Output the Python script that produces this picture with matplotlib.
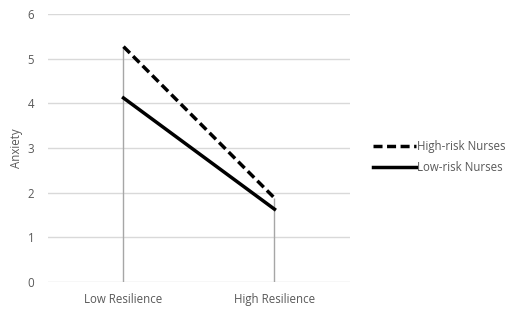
import matplotlib
matplotlib.use('Agg')
import matplotlib.pyplot as plt

categories = ['Low Resilience', 'High Resilience']
high_risk = [5.27, 1.88]
low_risk = [4.12, 1.63]
y_ticks = [0, 1, 2, 3, 4, 5, 6]

plt.rcParams['font.family'] = ['Open Sans', 'DejaVu Sans']
txt = '#595959'
fs = 8.3

fig = plt.figure(figsize=(5.10, 3.16), dpi=100)
ax = fig.add_axes([48/510, 1 - 282/316, 302/510, 268/316])

x = [0.5, 1.5]
ax.set_xlim(0, 2)
ax.set_ylim(0, 6)

for yv in y_ticks:
    ax.axhline(yv, color='#d9d9d9', lw=1, zorder=0)

# drop lines
tops = [max(a, b) for a, b in zip(high_risk, low_risk)]
ax.vlines(x, 0, tops, color='#a6a6a6', lw=1, zorder=1)

ax.plot(x, high_risk, color='black', lw=2.5, ls=(0, (2.6, 1.3)), label='High-risk Nurses', zorder=3)
ax.plot(x, low_risk, color='black', lw=2.5, label='Low-risk Nurses', zorder=3)

for s in ax.spines.values():
    s.set_visible(False)
ax.set_xticks(x)
ax.set_xticklabels(categories)
ax.set_yticks(y_ticks)
ax.tick_params(length=0, labelsize=fs, colors=txt, pad=10)
ax.tick_params(axis='x', pad=8)
ax.set_ylabel('Anxiety', fontsize=fs, color=txt, labelpad=3)

leg = fig.legend(loc='center left', bbox_to_anchor=(363/510, 1 - 157/316), frameon=False,
                 fontsize=fs, handlelength=3.7, handletextpad=0.1, labelspacing=0.75)
for t in leg.get_texts():
    t.set_color(txt)

fig.savefig('out.png', dpi=100)
